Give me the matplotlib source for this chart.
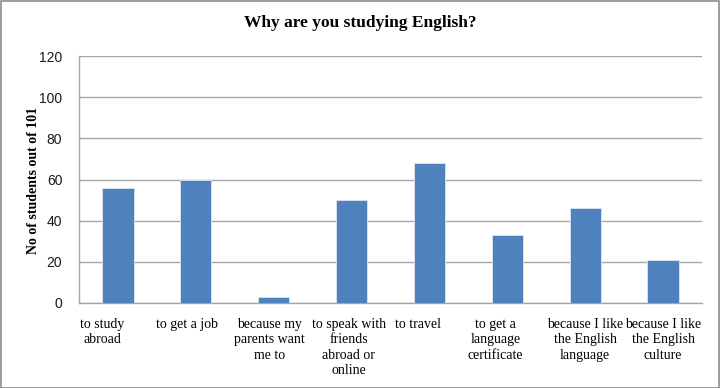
import matplotlib
matplotlib.use("Agg")
import matplotlib.pyplot as plt
from matplotlib.patches import Rectangle
from matplotlib.transforms import ScaledTranslation

categories = [
    "to study\nabroad",
    "to get a job",
    "because my\nparents want\nme to",
    "to speak with\nfriends\nabroad or\nonline",
    "to travel",
    "to get a\nlanguage\ncertificate",
    "because I like\nthe English\nlanguage",
    "because I like\nthe English\nculture",
]
values = [56, 60, 3, 50, 68, 33, 46, 21]
yticks = [0, 20, 40, 60, 80, 100, 120]
title = "Why are you studying English?"
ylabel = "No of students out of 101"

# horizontal nudges (pixels) of category labels, as laid out in the reference
label_shift_px = [-16, -9, -4, -3, -11, -12, 0, 0]

fig = plt.figure(figsize=(7.2, 3.88), dpi=100)
ax = fig.add_axes([79/720, 1-303/388, (702-79)/720, (303-56)/388])

x = list(range(len(categories)))
ax.bar(x, values, width=0.4, color="#4F81BD", edgecolor="#DCE6F2", linewidth=0.6, zorder=3)
ax.set_xlim(-0.5, len(categories)-0.5)
ax.set_ylim(0, 120)
ax.set_yticks(yticks)
ax.set_yticklabels([str(t) for t in yticks], family="Liberation Sans", fontsize=10, color="#1a1a1a")
ax.yaxis.grid(True, color="#A6A6A6", linewidth=1.0, zorder=0)
ax.tick_params(axis="y", length=0, pad=12)
ax.set_xticks(x)
ax.set_xticklabels(categories, family="Liberation Serif", fontsize=10, linespacing=1.22, va="top")
ax.tick_params(axis="x", length=0, pad=11)
for lab, dx in zip(ax.get_xticklabels(), label_shift_px):
    lab.set_transform(lab.get_transform() + ScaledTranslation(dx/100, 0, fig.dpi_scale_trans))
for s in ["top", "right"]:
    ax.spines[s].set_visible(False)
ax.spines["left"].set_color("#A6A6A6")
ax.spines["bottom"].set_color("#A6A6A6")
ax.spines["left"].set_linewidth(1.0)
ax.spines["bottom"].set_linewidth(1.0)

fig.text(0.5, 1-23/388, title, ha="center", va="center", family="Liberation Serif",
         fontweight="bold", fontsize=12.5)
fig.text(34/720, 1-180/388, ylabel, ha="center", va="center", rotation=90,
         family="Liberation Serif", fontweight="bold", fontsize=10)

fig.patches.append(Rectangle((0.5/720, 0.5/388), 1-1.5/720, 1-1.5/388, transform=fig.transFigure,
                             fill=False, edgecolor="#8C8C8C", linewidth=1.2))
fig.savefig("out.png", dpi=100)
